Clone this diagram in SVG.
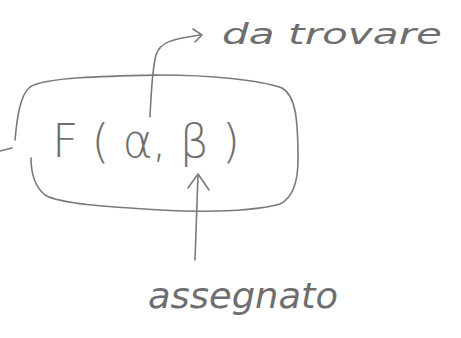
<svg xmlns="http://www.w3.org/2000/svg" width="461" height="338" viewBox="0 0 461 338">
<style>
.s{fill:none;stroke:#7a7a7a;stroke-width:1.6;stroke-linecap:round;stroke-linejoin:round}
.t{fill:#6e6e6e;font-family:"DejaVu Sans","Liberation Sans",sans-serif;font-weight:200}
</style>
<rect width="461" height="338" fill="#fff"/>
<g id="box">
<path class="s" d="M15,140 C17,118 20,95 30,87 C45,77 110,76 160,75 C210,75 260,80 282,88 C296,96 298,120 298,160 C298,185 292,198 280,204 C250,212 200,212 160,210 C110,207 60,204 45,195 C34,186 31,170 31,158"/>
<path class="s" d="M0,151 L12,148"/>
<text class="t" x="52" y="157" font-size="46" textLength="188" lengthAdjust="spacing">F ( α, β )</text>
</g>
<g id="da-trovare">
<text class="t" x="222" y="44" font-size="29" font-style="italic" textLength="220" lengthAdjust="spacingAndGlyphs">da trovare</text>
</g>
<g id="assegnato">
<text class="t" x="148" y="308" font-size="36" font-style="italic" textLength="190" lengthAdjust="spacingAndGlyphs">assegnato</text>
</g>
<g id="connectors">
<path class="s" d="M150,117 C151,95 152,70 156,55 C160,42 172,39 200,35"/>
<path class="s" d="M193,29 L202,35 L195,42"/>
<path class="s" d="M195,260 C196,230 197,200 198,175"/>
<path class="s" d="M188,188 L198,174 L209,190"/>
</g>
</svg>
